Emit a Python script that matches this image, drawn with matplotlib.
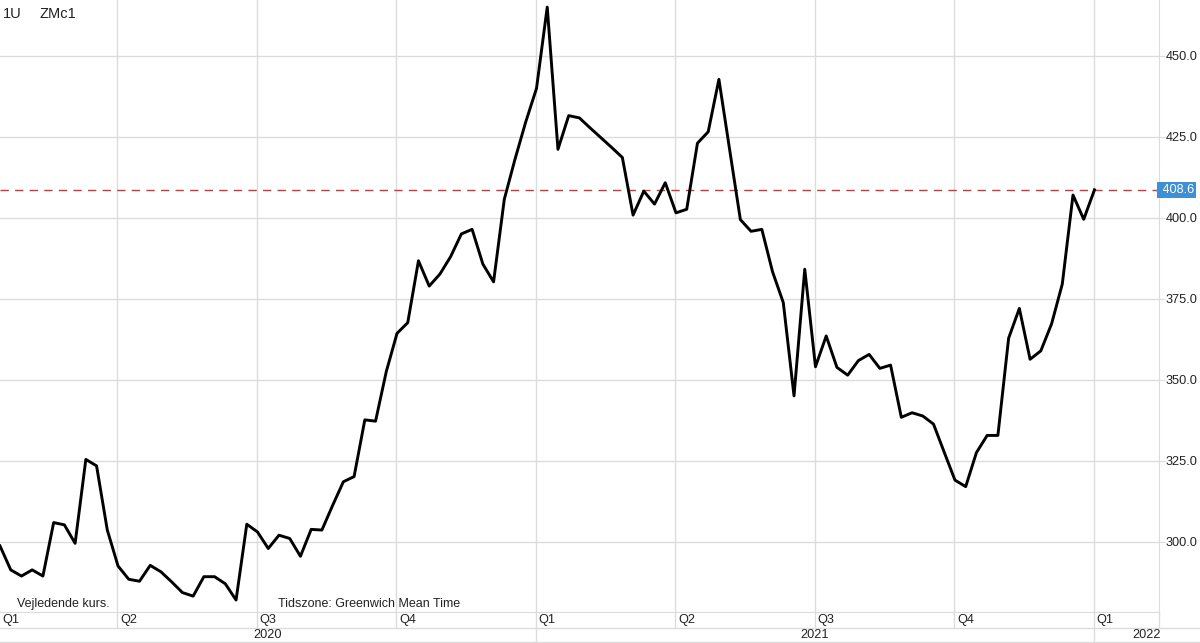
import numpy as np
import matplotlib
matplotlib.use("Agg")
import matplotlib.pyplot as plt
from matplotlib import transforms

plt.rcParams['font.family'] = ['Liberation Sans', 'DejaVu Sans']

# weekly closes, ZMc1 (Jan 2020 - Dec 2021)
prices = [298.7, 291.3, 289.4, 291.3, 289.4, 305.9, 305.2, 299.5, 325.4, 323.4,
          303.6, 292.5, 288.4, 287.8, 292.7, 290.7, 287.6, 284.3, 283.2, 289.2,
          289.2, 287.0, 282.0, 305.4, 303.0, 297.9, 302.0, 301.0, 295.5, 303.8,
          303.6, 311.2, 318.5, 320.1, 337.6, 337.2, 352.5, 364.3, 367.6, 386.7,
          378.9, 382.6, 388.0, 395.0, 396.4, 385.7, 380.2, 405.7, 418.1, 429.6,
          439.9, 465.0, 421.1, 431.5, 430.8, 427.7, 424.7, 421.7, 418.6, 400.8,
          408.2, 404.2, 410.8, 401.5, 402.6, 423.0, 426.5, 442.7, 421.0, 399.4,
          395.8, 396.4, 383.3, 373.8, 345.0, 384.1, 354.0, 363.5, 353.8, 351.4,
          355.9, 357.8, 353.5, 354.5, 338.4, 339.8, 338.8, 336.3, 327.6, 319.0,
          317.0, 327.5, 332.8, 332.8, 362.8, 372.0, 356.3, 358.9, 367.2, 379.5,
          407.0, 399.5, 408.6]
last_price = 408.6
quarter_labels = ['Q1', 'Q2', 'Q3', 'Q4', 'Q1', 'Q2', 'Q3', 'Q4', 'Q1']
year_labels = ['2020', '2021', '2022']
yticks = [300, 325, 350, 375, 400, 425, 450]

weeks = np.arange(len(prices))
# quarter boundaries in week index (13 weeks per quarter)
q_start = -2.05 + 13 * np.arange(len(quarter_labels))
y_start = q_start[::4]

PX = 10.73  # pixels per week
grid_c = '#dcdcdc'
txt_c = '#222222'

fig = plt.figure(figsize=(12, 6.43), dpi=100)
ax = fig.add_axes([0, 31 / 643, 1159 / 1200, 612 / 643])

ax.plot(weeks, prices, color='black', lw=2.1, zorder=3)
ax.axhline(last_price, color='#ad4545', lw=1, ls=(0, (6, 4.5)), zorder=2)

ax.set_yticks(yticks)
ax.set_yticklabels(['%.1f' % t for t in yticks])
ax.yaxis.tick_right()
ax.tick_params(axis='y', length=4, color=grid_c, labelsize=9.2, pad=1, labelcolor=txt_c)
ax.set_xticks(q_start)
ax.tick_params(axis='x', length=0, labelbottom=False)
ax.grid(True, color=grid_c, lw=1)
ax.set_axisbelow(True)
for s in ['top', 'left']:
    ax.spines[s].set_visible(False)
ax.spines['right'].set_color(grid_c)
ax.spines['bottom'].set_color(grid_c)
# limits last, set_xticks would widen them
ax.set_xlim(0, 1159 / PX)
ax.set_ylim(450 - (612 - 55.7) / 3.24, 450 + 55.7 / 3.24)

# last price tag
tr = transforms.blended_transform_factory(ax.transAxes, ax.transData)
ax.text(1.0, last_price, ' 408.6', transform=tr, ha='left', va='center', color='white',
        fontsize=9.2, bbox=dict(boxstyle='square,pad=0.15', fc='#3f8fd4', ec='none'),
        clip_on=False, zorder=5)
ax.plot([1.0], [last_price], marker='<', ms=5, color='#3f8fd4', transform=tr,
        clip_on=False, zorder=5)

# quarter / year rows
bx = fig.add_axes([0, 0, 1, 31 / 643])
bx.axis('off')
bx.plot([0, 1200 / PX], [15, 15], color=grid_c, lw=1)
bx.plot([0, 1200 / PX], [1, 1], color=grid_c, lw=1)
bx.plot([1159 / PX] * 2, [15, 31], color=grid_c, lw=1)
for q, lab in zip(q_start, quarter_labels):
    if q > 0:
        bx.plot([q, q], [15, 31], color=grid_c, lw=1)
    bx.text(max(q, 0) + 0.25, 23, lab, ha='left', va='center', fontsize=9.2, color=txt_c)
for y in y_start[1:]:
    bx.plot([y, y], [0, 15], color=grid_c, lw=1)
bounds = [0] + list(y_start[1:]) + [1200 / PX]
for i, lab in enumerate(year_labels):
    bx.text((bounds[i] + bounds[i + 1]) / 2, 8, lab, ha='center', va='center',
            fontsize=9.2, color=txt_c)
bx.set_xlim(0, 1200 / PX)
bx.set_ylim(0, 31)

fig.text(3 / 1200, 1 - 14 / 643, '1U', fontsize=10.5, va='center', ha='left', color=txt_c)
fig.text(40 / 1200, 1 - 14 / 643, 'ZMc1', fontsize=10.5, va='center', ha='left', color=txt_c)
fig.text(17 / 1200, 1 - 604 / 643, 'Vejledende kurs.', fontsize=9, va='center', ha='left', color=txt_c)
fig.text(278 / 1200, 1 - 604 / 643, 'Tidszone: Greenwich Mean Time', fontsize=9, va='center',
         ha='left', color=txt_c)

fig.savefig('out.png', dpi=100)
